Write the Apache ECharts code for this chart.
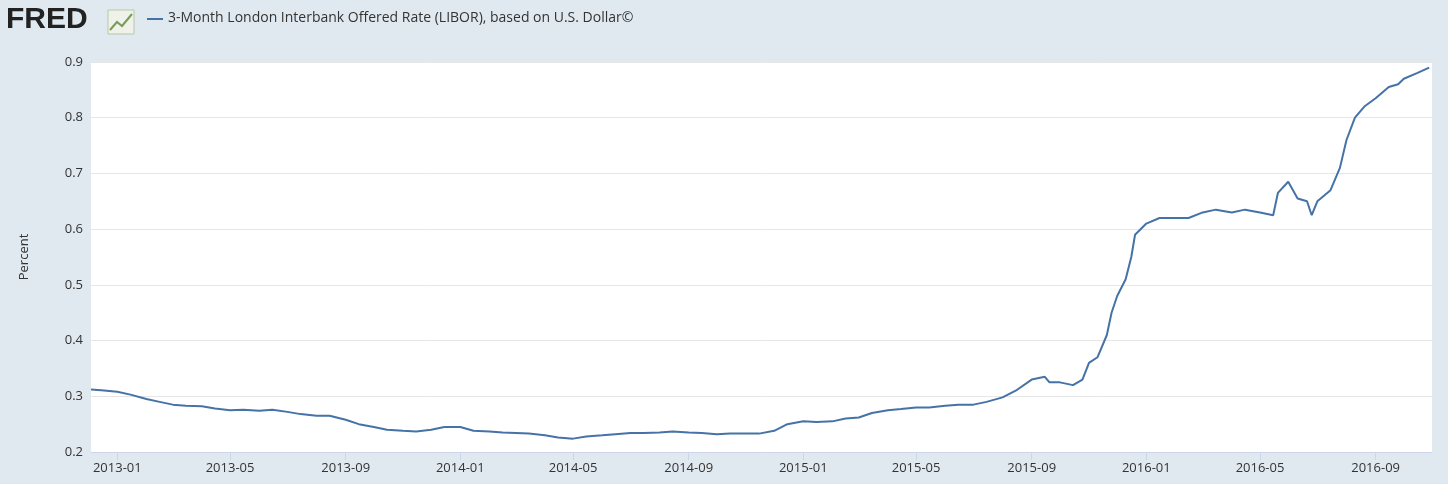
<!DOCTYPE html>
<html><head><meta charset="utf-8">
<script src="https://cdn.jsdelivr.net/npm/echarts@6/dist/echarts.min.js"></script>
<style>html,body{margin:0;padding:0;background:#e1e9f0}#c{width:1448px;height:484px}</style>
</head><body><div id="c"></div>
<script>
const obsDates = ["2012-12-04","2012-12-15","2013-01-01","2013-01-15","2013-02-01","2013-02-15","2013-03-01","2013-03-15","2013-04-01","2013-04-15","2013-05-01","2013-05-15","2013-06-01","2013-06-15","2013-07-01","2013-07-15","2013-08-01","2013-08-15","2013-09-01","2013-09-15","2013-10-01","2013-10-15","2013-11-01","2013-11-15","2013-12-01","2013-12-15","2014-01-01","2014-01-15","2014-02-01","2014-02-15","2014-03-01","2014-03-15","2014-04-01","2014-04-15","2014-05-01","2014-05-15","2014-06-01","2014-06-15","2014-07-01","2014-07-15","2014-08-01","2014-08-15","2014-09-01","2014-09-15","2014-10-01","2014-10-15","2014-11-01","2014-11-15","2014-12-01","2014-12-15","2015-01-01","2015-01-15","2015-02-01","2015-02-15","2015-03-01","2015-03-15","2015-04-01","2015-04-15","2015-05-01","2015-05-15","2015-06-01","2015-06-15","2015-07-01","2015-07-15","2015-08-01","2015-08-15","2015-09-01","2015-09-15","2015-09-20","2015-10-01","2015-10-15","2015-10-25","2015-11-01","2015-11-10","2015-11-20","2015-11-25","2015-12-01","2015-12-10","2015-12-16","2015-12-20","2016-01-01","2016-01-15","2016-02-01","2016-02-15","2016-03-01","2016-03-15","2016-04-01","2016-04-15","2016-05-01","2016-05-15","2016-05-20","2016-05-31","2016-06-10","2016-06-20","2016-06-25","2016-07-01","2016-07-15","2016-07-25","2016-08-01","2016-08-10","2016-08-20","2016-09-01","2016-09-15","2016-09-25","2016-10-01","2016-10-15","2016-10-28"];
const obsValues = [0.312,0.311,0.308,0.303,0.295,0.29,0.285,0.283,0.282,0.278,0.275,0.276,0.274,0.276,0.272,0.268,0.265,0.265,0.258,0.25,0.245,0.24,0.238,0.237,0.24,0.245,0.245,0.238,0.237,0.235,0.234,0.233,0.23,0.226,0.224,0.228,0.23,0.232,0.234,0.234,0.235,0.237,0.235,0.234,0.232,0.233,0.233,0.233,0.238,0.25,0.255,0.254,0.255,0.26,0.262,0.27,0.275,0.277,0.28,0.28,0.283,0.285,0.285,0.29,0.298,0.31,0.33,0.335,0.325,0.325,0.32,0.33,0.36,0.37,0.41,0.45,0.48,0.51,0.55,0.59,0.61,0.62,0.62,0.62,0.63,0.635,0.63,0.635,0.63,0.625,0.665,0.685,0.655,0.65,0.625,0.65,0.67,0.71,0.76,0.8,0.82,0.835,0.855,0.86,0.87,0.88,0.89];
const yTicks = [0.2,0.3,0.4,0.5,0.6,0.7,0.8,0.9];

const days = [];
for (let t = Date.UTC(2012,11,4); t <= Date.UTC(2016,9,31); t += 86400000) days.push(new Date(t).toISOString().slice(0,10));
const map = {}; obsDates.forEach((d,i)=>map[d]=obsValues[i]);
const seriesData = days.map(d => d in map ? map[d] : null);
const isTick = (i) => { const d = days[i]; return d.endsWith('-01') && ['01','05','09'].includes(d.slice(5,7)); };

const chart = echarts.init(document.getElementById('c'));
chart.setOption({
  backgroundColor:'#e1e9f0',
  animation:false,
  graphic:[
    {type:'text',left:6,top:5,style:{text:'FRED',font:'bold 30px "Liberation Sans", Arial',fill:'#222'}},
    {type:'rect',shape:{x:108,y:10,width:26,height:24},style:{fill:'#eef2e8',stroke:'#b8c7a8'}},
    {type:'polyline',shape:{points:[[110,30],[117,22],[122,26],[132,14]]},style:{stroke:'#7a9a5a',lineWidth:2,fill:null}},
    {type:'line',shape:{x1:147,y1:19,x2:163,y2:19},style:{stroke:'#4572a7',lineWidth:2}},
    {type:'text',left:168,top:11,style:{text:'3-Month London Interbank Offered Rate (LIBOR), based on U.S. Dollar©',font:'14px "Open Sans"',fill:'#333'}}
  ],
  grid:{left:91,right:16,top:62,bottom:32},
  xAxis:{type:'category',data:days,boundaryGap:false,
    axisLine:{lineStyle:{color:'#ccd6eb'}},
    axisTick:{interval:isTick,lineStyle:{color:'#ccd6eb'},length:8},
    axisLabel:{interval:isTick,formatter:v=>v.slice(0,7),color:'#333',fontSize:13,fontFamily:'Open Sans',margin:10},
    splitLine:{show:false}},
  yAxis:{type:'value',min:0.2,max:0.9,interval:0.1,
    name:'Percent',nameLocation:'middle',nameGap:60,nameTextStyle:{color:'#333',fontSize:13,fontFamily:'Open Sans'},
    axisLabel:{formatter:v=>String(Math.round(v*10)/10),color:'#333',fontSize:13,fontFamily:'Open Sans'},
    splitLine:{lineStyle:{color:'#e6e6e6'}},axisLine:{show:false},axisTick:{show:false}},
  series:[{type:'line',data:seriesData,connectNulls:true,showSymbol:false,
    lineStyle:{color:'#4572a7',width:2},itemStyle:{color:'#4572a7'}}]
});
chart.getZr().add(new echarts.graphic.Rect({shape:{x:91,y:62,width:1341,height:390},style:{fill:'#fff'},z:-10}));
</script></body></html>
